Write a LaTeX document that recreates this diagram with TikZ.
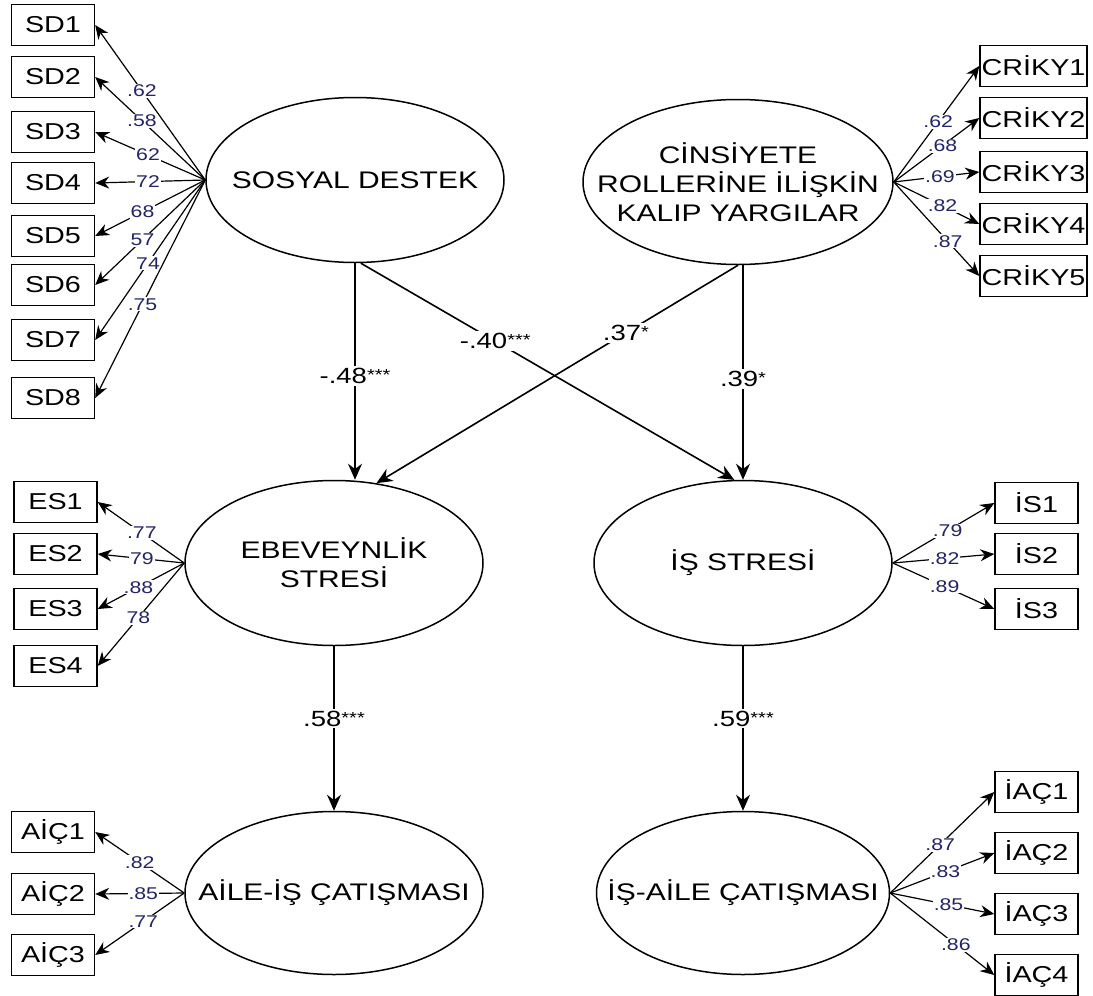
\documentclass[tikz,border=0pt]{standalone}
\usepackage{fontspec}
\setmainfont{Liberation Sans}[FakeStretch=1.25]
\usetikzlibrary{shapes.geometric,arrows.meta}
\definecolor{loadblue}{RGB}{35,35,105}
\newcommand{\sig}[1]{\raisebox{1.5pt}{\fontsize{8}{8}\selectfont#1}}
\tikzset{
  latent/.style={draw,ellipse,line width=0.75pt,inner sep=0pt,minimum width=149pt,minimum height=82.5pt},
  ltext/.style={align=center,font=\fontsize{12}{14.5}\selectfont},
  obs/.style={draw,rectangle,line width=0.7pt,inner sep=0pt,minimum width=41.5pt,minimum height=20.5pt,font=\fontsize{11.5}{13}\selectfont},
  load/.style={-{Stealth[length=7pt,width=6pt]},line width=0.6pt},
  causal/.style={-{Stealth[length=8pt,width=7pt]},line width=0.8pt},
  coef/.style={font=\fontsize{8.5}{9}\selectfont,text=loadblue,fill=white,inner sep=0.5pt},
  pcoef/.style={font=\fontsize{11}{12}\selectfont,fill=white,inner sep=1pt}
}
\begin{document}
\begin{tikzpicture}[x=0.5pt,y=-0.5pt]
  \useasboundingbox (0,0) rectangle (1093,996);
  % latent variables
  \node[latent,label={[ltext]center:SOSYAL DESTEK}] (sd) at (355,180) {};
  \node[latent,minimum width=155pt,label={[ltext]center:{CİNSİYETE\\ROLLERİNE İLİŞKİN\\KALIP YARGILAR}}] (cr) at (738,182) {};
  \node[latent,label={[ltext]center:{EBEVEYNLİK\\STRESİ}}] (eb) at (334,563) {};
  \node[latent,label={[ltext]center:İŞ STRESİ}] (is) at (743,563) {};
  \node[latent,minimum height=81.5pt,label={[ltext]center:AİLE-İŞ ÇATIŞMASI}] (aic) at (334,893) {};
  \node[latent,minimum width=146.5pt,minimum height=81.5pt,label={[ltext]center:İŞ-AİLE ÇATIŞMASI}] (iac) at (743,893) {};
  % indicators
  \foreach \i/\y/\p/\v in {1/25/.575/.62,2/77/.575/.58,3/132/.52/62,4/183/.52/72,5/236/.57/68,6/285/.57/57,7/340/.52/74,8/398/.57/.75} {
    \node[obs] (sd\i) at (53,\y) {SD\i};
    \draw[load] (sd.west) -- (sd\i.east) node[coef,pos=\p] {\v};
  }
  \foreach \i/\y/\p/\v in {1/66/.52/.62,2/118/.57/.68,3/172/.54/.69,4/224/.57/.82,5/276/.63/.87} {
    \node[obs,minimum width=53.5pt] (cr\i) at (1033.5,\y) {CRİKY\i};
    \draw[load] (cr.east) -- (cr\i.west) node[coef,pos=\p] {\v};
  }
  \foreach \i/\y/\p/\v in {1/502/.49/.77,2/554/.49/79,3/609/.53/.88,4/666/.53/78} {
    \node[obs] (es\i) at (55.5,\y) {ES\i};
    \draw[load] (eb.west) -- (es\i.east) node[coef,pos=\p] {\v};
  }
  \foreach \i/\y/\p/\v in {1/503/.54/.79,2/554/.51/.82,3/609/.51/.89} {
    \node[obs] (is\i) at (1036.5,\y) {İS\i};
    \draw[load] (is.east) -- (is\i.west) node[coef,pos=\p] {\v};
  }
  \foreach \i/\y/\p/\v in {1/832/.5/.82,2/894/.46/.85,3/955/.46/.77} {
    \node[obs] (aic\i) at (53,\y) {AİÇ\i};
    \draw[load] (aic.west) -- (aic\i.east) node[coef,pos=\p] {\v};
  }
  \foreach \i/\y/\p/\v in {1/792/.48/.87,2/853/.53/.83,3/914/.56/.85,4/975/.63/.86} {
    \node[obs] (iac\i) at (1036.5,\y) {İAÇ\i};
    \draw[load] (iac.east) -- (iac\i.west) node[coef,pos=\p] {\v};
  }
  % structural paths
  \draw[causal] (sd.south) -- (sd.south |- eb.north) node[pcoef,pos=.52] {-.48\sig{***}};
  \draw[causal] (sd.-86) -- (is.96) node[pcoef,pos=.36] {-.40\sig{***}};
  \draw[causal] (cr.south) -- (eb.62) node[pcoef,pos=.31] {.37\sig{*}};
  \draw[causal] (is.north |- cr.south) -- (is.north) node[pcoef,pos=.53] {.39\sig{*}};
  \draw[causal] (eb.south) -- (aic.north) node[pcoef,pos=.44] {.58\sig{***}};
  \draw[causal] (is.south) -- (iac.north) node[pcoef,pos=.44] {.59\sig{***}};
\end{tikzpicture}
\end{document}
